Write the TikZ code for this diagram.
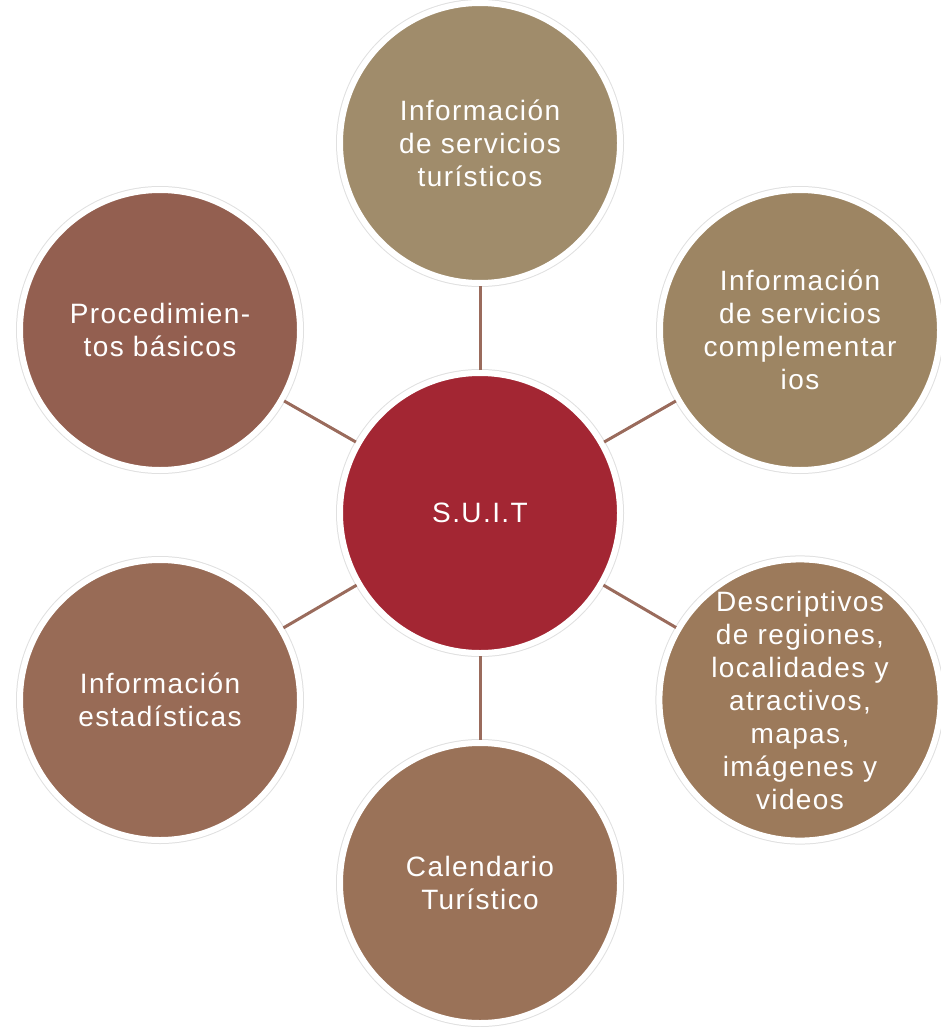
\documentclass[tikz,border=0pt]{standalone}
\usepackage{fontspec}
\setmainfont{Liberation Sans}[LetterSpace=5]
\definecolor{cTop}{HTML}{A08C6B}
\definecolor{cRT}{HTML}{9D8563}
\definecolor{cRB}{HTML}{9C7A5B}
\definecolor{cBot}{HTML}{9A7258}
\definecolor{cLB}{HTML}{986B56}
\definecolor{cLT}{HTML}{935F50}
\definecolor{cCen}{HTML}{A32633}
\definecolor{cLine}{HTML}{9A6B5C}
\tikzset{
  bubble/.style={circle, minimum size=280pt, inner sep=0pt, fill=#1,
    preaction={draw=black!12, line width=8pt},
    draw=white, line width=6pt, text=white, align=center,
    font=\fontsize{28}{33}\selectfont},
  link/.style={draw=cLine, line width=3pt}
}
\begin{document}
\begin{tikzpicture}[x=1pt,y=-1pt]
\useasboundingbox (0,0) rectangle (940,1027);
\node[bubble=cCen] (c) at (480,513) {S.U.I.T};
\node[bubble=cTop] (t) at (480,143) {Información\\de servicios\\turísticos};
\node[bubble=cRT] (rt) at (800,330) {Información\\de servicios\\complementar\\ios};
\node[bubble=cRB] (rb) at (800,700) {Descriptivos\\de regiones,\\localidades y\\atractivos,\\mapas,\\imágenes y\\videos};
\node[bubble=cBot] (b) at (480,883) {Calendario\\Turístico};
\node[bubble=cLB] (lb) at (160,700) {Información\\estadísticas};
\node[bubble=cLT] (lt) at (160,330) {Procedimien-\\tos básicos};
\foreach \n in {t,rt,rb,b,lb,lt} \draw[link] (c) -- (\n);
\end{tikzpicture}
\end{document}
